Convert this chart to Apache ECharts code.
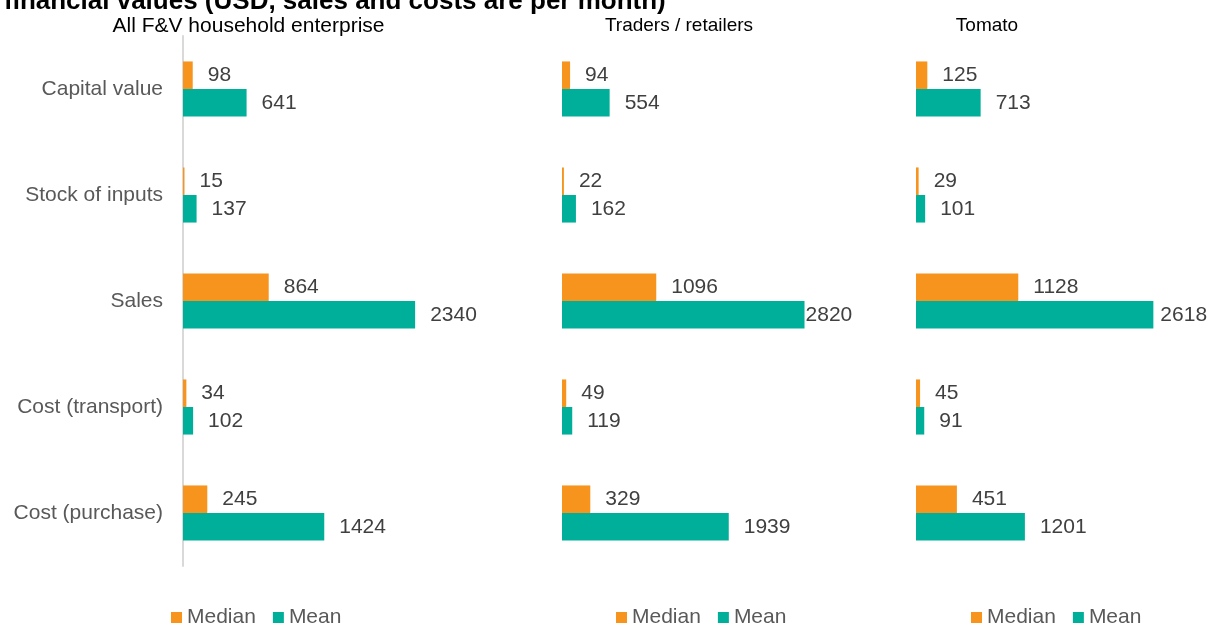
<!DOCTYPE html>
<html>
<head>
<meta charset="utf-8">
<script src="https://cdn.jsdelivr.net/npm/echarts@6/dist/echarts.min.js"></script>
<style>
  html, body { margin: 0; padding: 0; background: #ffffff; }
  #chart { width: 1211px; height: 629px; }
</style>
</head>
<body>
<div id="chart"></div>
<script>
// Enterprise financial values, three groups, median vs mean (USD)
const chartTitle = 'financial values (USD, sales and costs are per month)';
const categories = ['Capital value', 'Stock of inputs', 'Sales', 'Cost (transport)', 'Cost (purchase)'];
const panelTitles = ['All F&V household enterprise', 'Traders / retailers', 'Tomato'];
const seriesNames = ['Median', 'Mean'];

const allMedian = [98, 15, 864, 34, 245];
const allMean = [641, 137, 2340, 102, 1424];
const tradersMedian = [94, 22, 1096, 49, 329];
const tradersMean = [554, 162, 2820, 119, 1939];
const tomatoMedian = [125, 29, 1128, 45, 451];
const tomatoMean = [713, 101, 2618, 91, 1201];

const FONT = "'Liberation Sans', Arial, sans-serif";
const ORANGE = '#F7941D';
const TEAL = '#00AF9A';

// layout of each small panel
const panels = [
  { median: allMedian, mean: allMean, left: 183, width: 248, max: 2500, titleX: 248.5, titleSize: 21,
    legendLeft: 171, showAxis: true, salesMeanGap: 15 },
  { median: tradersMedian, mean: tradersMean, left: 562, width: 258, max: 3000, titleX: 679, titleSize: 19,
    legendLeft: 616, showAxis: false, salesMeanGap: 1 },
  { median: tomatoMedian, mean: tomatoMean, left: 916, width: 272, max: 3000, titleX: 987, titleSize: 19,
    legendLeft: 971, showAxis: false, salesMeanGap: 7 }
];

const labelStyle = { show: true, position: 'right', distance: 15, color: '#404040', fontSize: 21, fontFamily: FONT };

const grid = [], xAxis = [], yAxis = [], series = [], legend = [], graphic = [];

panels.forEach((p, i) => {
  grid.push({ left: p.left, width: p.width, top: 36, height: 530, containLabel: false });
  xAxis.push({ type: 'value', gridIndex: i, min: 0, max: p.max, show: false, splitLine: { show: false } });
  yAxis.push({
    type: 'category', gridIndex: i, data: categories, inverse: true, show: true,
    axisLine: { show: p.showAxis, lineStyle: { color: '#D9D9D9', width: 2 } },
    axisTick: { show: false },
    axisLabel: { show: p.showAxis, color: '#595959', fontSize: 21, fontFamily: FONT, margin: 20 },
    splitLine: { show: false }
  });
  series.push({
    name: seriesNames[0], type: 'bar', xAxisIndex: i, yAxisIndex: i,
    data: p.median, barGap: '0%', barCategoryGap: '48%',
    itemStyle: { color: ORANGE }, label: labelStyle
  });
  series.push({
    name: seriesNames[1], type: 'bar', xAxisIndex: i, yAxisIndex: i,
    data: p.mean.map((v, k) => k === 2
      ? { value: v, label: { distance: p.salesMeanGap } }
      : v),
    barGap: '0%', barCategoryGap: '48%',
    itemStyle: { color: TEAL }, label: labelStyle
  });
  legend.push({
    data: seriesNames, left: p.legendLeft, top: 607, orient: 'horizontal',
    icon: 'rect', itemWidth: 11, itemHeight: 11, itemGap: 17, selectedMode: false,
    textStyle: { color: '#595959', fontSize: 21, fontFamily: FONT, padding: [0, 0, 0, 0] },
    padding: 0
  });
  graphic.push({
    type: 'text', x: p.titleX, y: 26,
    style: { text: panelTitles[i], fill: '#000000', font: p.titleSize + 'px ' + FONT, textAlign: 'center', textVerticalAlign: 'middle' }
  });
});

// page heading, partly clipped by the top edge
graphic.push({
  type: 'text', x: 4, y: 2,
  style: { text: chartTitle, fill: '#000000', font: 'bold 26px ' + FONT, textAlign: 'left', textVerticalAlign: 'middle' }
});

const chart = echarts.init(document.getElementById('chart'), null, { renderer: 'canvas' });
chart.setOption({
  backgroundColor: '#ffffff',
  animation: false,
  grid, xAxis, yAxis, series, legend, graphic
});
</script>
</body>
</html>
